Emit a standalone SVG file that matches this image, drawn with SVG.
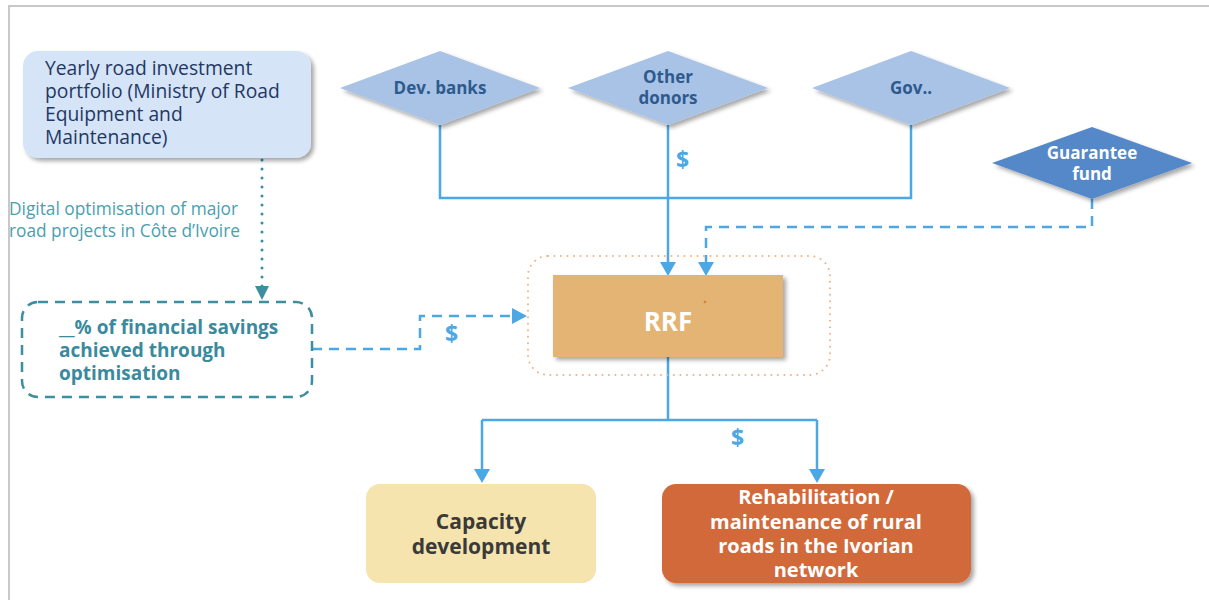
<svg xmlns="http://www.w3.org/2000/svg" width="1209" height="600" viewBox="0 0 1209 600">
<defs>
<filter id="sh" x="-10%" y="-10%" width="130%" height="130%">
<feDropShadow dx="3" dy="3" stdDeviation="2" flood-color="#000" flood-opacity="0.35"/>
</filter>
<style>
.t{font-family:"Open Sans","Noto Sans","Liberation Sans",sans-serif}
.b{font-weight:700}
.flow{fill:none;stroke:#4ca8e4;stroke-width:2.5}
.dash{stroke-dasharray:10 7}
.dol{font-family:"Open Sans","Liberation Sans",sans-serif;font-weight:700;font-size:23px;fill:#4ca8e4}
.dia{fill:#a9c3e6;filter:url(#sh)}
.dt{font-size:17px;fill:#2e5a8e;text-anchor:middle}
.ah{fill:#4ca8e4}
</style>
</defs>
<rect width="1209" height="600" fill="#fff"/>
<path d="M9,600 V6 H1209" fill="none" stroke="#c8c8c8" stroke-width="2"/>

<g id="connectors">
<path class="flow" d="M440,125 V198 H911 V125"/>
<path class="flow" d="M668,125 V266"/>
<path class="ah" d="M660,262 L676,262 L668,276 z"/>
<path class="flow dash" d="M1092,199 V227 H706 V262"/>
<path class="ah" d="M698,262 L714,262 L706,276 z"/>
<path class="flow dash" d="M312,349 H420 V316 H514"/>
<path class="ah" d="M512,308 L527,316 L512,324 z"/>
<path class="flow" d="M668,357 V420 M482,420 H817 M482,420 V470 M817,420 V470"/>
<path class="ah" d="M474,469 L490,469 L482,483 z"/>
<path class="ah" d="M809,469 L825,469 L817,483 z"/>
<path d="M262,160 V288" fill="none" stroke="#3d8fa0" stroke-width="3" stroke-linecap="round" stroke-dasharray="0 9"/>
<path d="M255,286 L269,286 L262,300 z" fill="#3d8fa0"/>
<text class="dol" x="445" y="342">$</text>
<text class="dol" x="676" y="168">$</text>
<text class="dol" x="731" y="446">$</text>
</g>

<g id="yearly">
<rect x="23" y="51" width="288" height="107" rx="15" fill="#d6e4f7" filter="url(#sh)"/>
<text class="t" font-size="19.3" fill="#1f3864"><tspan x="45" y="75">Yearly road investment</tspan><tspan x="45" y="98">portfolio (Ministry of Road</tspan><tspan x="45" y="121">Equipment and</tspan><tspan x="45" y="144">Maintenance)</tspan></text>
</g>

<g id="digital-label">
<text class="t" font-size="17.3" fill="#4aa0b0"><tspan x="9" y="215">Digital optimisation of major</tspan><tspan x="9" y="237">road projects in Côte d’Ivoire</tspan></text>
</g>

<g id="savings">
<rect x="22" y="302" width="290" height="95" rx="16" fill="#fff" stroke="#3d8fa0" stroke-width="2.5" stroke-dasharray="10 7"/>
<text class="t b" font-size="19" fill="#3a8a9e"><tspan x="59" y="334">__% of financial savings</tspan><tspan x="59" y="357">achieved through</tspan><tspan x="59" y="380">optimisation</tspan></text>
</g>

<g id="dev-banks">
<polygon class="dia" points="340,88 440,51 540,88 440,125"/>
<text class="t b dt" x="440" y="94">Dev. banks</text>
</g>
<g id="other-donors">
<polygon class="dia" points="568,88 668,51 768,88 668,125"/>
<text class="t b dt"><tspan x="668" y="83">Other</tspan><tspan x="668" y="104">donors</tspan></text>
</g>
<g id="gov">
<polygon class="dia" points="812,88 911,51 1010,88 911,125"/>
<text class="t b dt" x="911" y="94">Gov..</text>
</g>
<g id="guarantee">
<polygon points="992,163 1092,127 1192,163 1092,199" fill="#5588c8" filter="url(#sh)"/>
<text class="t b" font-size="17" fill="#fff" text-anchor="middle"><tspan x="1092" y="159">Guarantee</tspan><tspan x="1092" y="180">fund</tspan></text>
</g>

<g id="rrf">
<rect x="528" y="256" width="302" height="119" rx="20" fill="none" stroke="#f0b080" stroke-width="2" stroke-linecap="round" stroke-dasharray="0 6.5"/>
<rect x="553" y="275" width="230" height="82" fill="#e3b473" filter="url(#sh)"/>
<circle cx="705" cy="302" r="1.3" fill="#d4833a"/>
<text class="t b" font-size="26" fill="#fff" text-anchor="middle" x="668" y="331">RRF</text>
</g>

<g id="capacity">
<rect x="366" y="484" width="230" height="99" rx="14" fill="#f5e4ad"/>
<text class="t b" font-size="21" fill="#3a3a3a" text-anchor="middle"><tspan x="481" y="529">Capacity</tspan><tspan x="481" y="554">development</tspan></text>
</g>

<g id="rehab">
<rect x="662" y="484" width="309" height="99" rx="14" fill="#d2693a" filter="url(#sh)"/>
<text class="t b" font-size="20" fill="#fff" text-anchor="middle"><tspan x="816" y="504">Rehabilitation /</tspan><tspan x="816" y="529">maintenance of rural</tspan><tspan x="816" y="553">roads in the Ivorian</tspan><tspan x="816" y="577">network</tspan></text>
</g>
</svg>
